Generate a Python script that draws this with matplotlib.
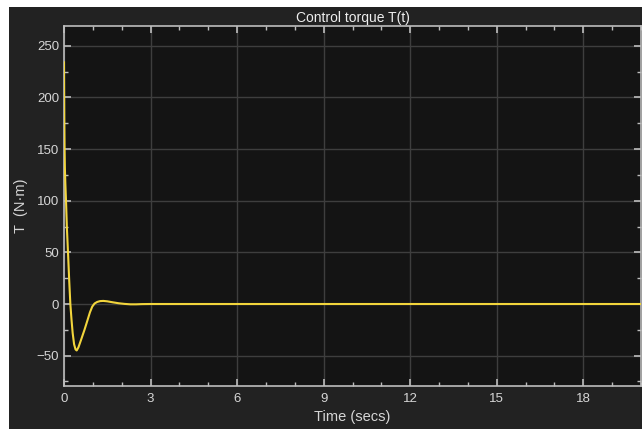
import matplotlib
matplotlib.use("Agg")
import matplotlib.pyplot as plt
from matplotlib.patches import Rectangle
from matplotlib.ticker import MultipleLocator

plt.rcParams['font.family'] = ['Liberation Sans', 'DejaVu Sans']

# Simulated control torque response (time in s, torque in N·m)
time_s = [0.0, 0.005, 0.01, 0.02, 0.03, 0.045, 0.07, 0.10, 0.14, 0.18, 0.22,
          0.26, 0.30, 0.35, 0.40, 0.44, 0.50, 0.60, 0.71, 0.80, 0.90, 0.98,
          1.06, 1.15, 1.25, 1.36, 1.50, 1.70, 1.90, 2.10, 2.30, 2.50, 2.70,
          3.00, 4.00, 6.00, 10.0, 15.0, 20.0]
torque = [234.0, 205.0, 180.0, 150.0, 132.0, 118.0, 100.0, 74.0, 49.0, 23.0, 0.0,
          -15.0, -28.0, -39.0, -44.0, -45.0, -42.0, -34.0, -25.0, -17.0, -8.0, -2.5,
          0.5, 2.0, 2.8, 3.0, 2.6, 1.6, 0.7, 0.1, -0.3, -0.3, -0.1,
          0.0, 0.0, 0.0, 0.0, 0.0, 0.0]

x_ticks = [0, 3, 6, 9, 12, 15, 18]
y_ticks = [-50, 0, 50, 100, 150, 200, 250]

W, H = 642, 432
fig = plt.figure(figsize=(W / 100, H / 100), dpi=100, facecolor='white')
fig.patches.append(Rectangle((9 / W, 3 / H), 1 - 9 / W, 1 - 10 / H,
                             transform=fig.transFigure, facecolor='#222222',
                             edgecolor='none', zorder=-10))

ax = fig.add_axes([64 / W, 46 / H, 577 / W, 360 / H])
ax.set_facecolor('#141414')

ax.plot(time_s, torque, color='#f2d53c', lw=1.5, zorder=3)

ax.set_xlim(0, 20)
ax.set_ylim(-79.4, 269.2)
ax.set_xticks(x_ticks)
ax.set_yticks(y_ticks)
ax.xaxis.set_minor_locator(MultipleLocator(1))
ax.yaxis.set_minor_locator(MultipleLocator(25))

ax.grid(True, which='major', color='#3e3e3e', lw=1.0)
ax.set_axisbelow(True)

text_col = '#d6d6d6'
for s in ax.spines.values():
    s.set_color('#bdbdbd')
    s.set_linewidth(1.2)
ax.tick_params(which='both', direction='in', top=True, right=True,
               colors='#bdbdbd', labelcolor=text_col, labelsize=9.5)
ax.tick_params(which='major', length=5, width=1.2)
ax.tick_params(which='minor', length=3, width=1.0)
ax.tick_params(axis='x', pad=5)

ax.set_title('Control torque T(t)', color='#eeeeee', fontsize=10, pad=3)
ax.set_xlabel('Time (secs)', color=text_col, fontsize=10.5, labelpad=4)
ax.set_ylabel('T  (N·m)', color=text_col, fontsize=10.5, labelpad=6)

fig.savefig('out.png', dpi=100, facecolor=fig.get_facecolor())
